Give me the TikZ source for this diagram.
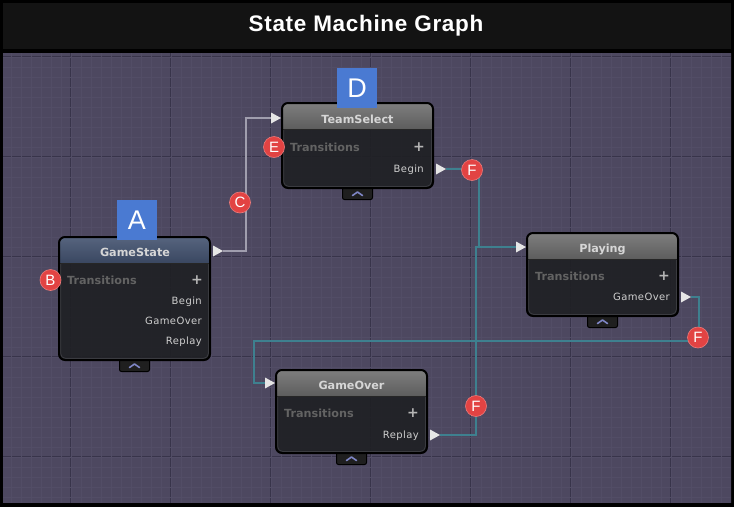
\documentclass[tikz,border=0pt]{standalone}
\usepackage{fontspec}
\setmainfont{DejaVu Sans}
\newfontfamily\labelfont{Liberation Sans}
\newfontfamily\headfont[LetterSpace=3]{Liberation Sans}
\newfontfamily\portfont[LetterSpace=4]{DejaVu Sans}
\usetikzlibrary{calc}
\definecolor{headbg}{HTML}{131313}
\definecolor{gridbg}{HTML}{4D4860}
\definecolor{gridminor}{HTML}{524D66}
\definecolor{gridmajor}{HTML}{38344A}
\definecolor{bodyc}{HTML}{1F2024}
\definecolor{greytop}{HTML}{7E7E7E}
\definecolor{greybot}{HTML}{5D5D5D}
\definecolor{bluetop}{HTML}{56647E}
\definecolor{bluebot}{HTML}{3A4761}
\definecolor{titlec}{HTML}{D6D6D6}
\definecolor{transc}{HTML}{636363}
\definecolor{portlc}{HTML}{CFCFCF}
\definecolor{plusc}{HTML}{B5B5B5}
\definecolor{portc}{HTML}{E6E6E6}
\definecolor{greyconnc}{HTML}{A09EAE}
\definecolor{tealc}{HTML}{3E808F}
\definecolor{redc}{HTML}{E24343}
\definecolor{bluec}{HTML}{4A7AD2}
\definecolor{chevc}{HTML}{7F86C6}
\definecolor{innerc}{HTML}{3A3B40}
\tikzset{
  statebody/.style={rectangle, inner sep=0, outer sep=0, minimum width=151, fill=bodyc, fill opacity=0.92, rounded corners=6},
  ntitle/.style={anchor=base, text=titlec, font=\bfseries\fontsize{11.2}{12}\selectfont, inner sep=0},
  ntrans/.style={anchor=base west, text=transc, font=\bfseries\fontsize{11.2}{12}\selectfont, inner sep=0},
  nplus/.style={anchor=center, text=plusc, font=\bfseries\fontsize{14}{14}\selectfont, inner sep=0},
  nport/.style={anchor=base east, text=portlc, font=\portfont\fontsize{10}{12}\selectfont, inner sep=0},
  greyconn/.style={draw=greyconnc, line width=1.4},
  tealconn/.style={draw=tealc, line width=1.6},
  redmark/.style={circle, fill=redc, draw=redc!70!white, line width=0.6, minimum size=21, inner sep=0, text=white, font=\labelfont\fontsize{15}{15}\selectfont},
  bluemark/.style={rectangle, fill=bluec, minimum size=40, inner sep=0, text=white, font=\labelfont\fontsize{27}{27}\selectfont},
  tabbox/.style={rectangle, fill=black!88, draw=black, line width=1, minimum width=30, minimum height=13, inner sep=0, rounded corners=2},
  minorline/.style={draw=gridminor, line width=0.5},
  majorline/.style={draw=gridmajor, line width=1.2}
}
% #1 name, #2 x, #3 y, #4 height, #5 header top colour, #6 header bottom colour
\newcommand\mkstate[6]{%
  \node[tabbox] (#1-tab) at (#2+75.5,#3+#4+5) {};
  \draw[chevc, line width=1.6, line cap=round, line join=round] ($(#1-tab.center)+(-5,2.5)$) -- ++(5,-3.5) -- ++(5,3.5);
  \node[statebody, minimum height=#4, anchor=north west] (#1) at (#2,#3) {};
  \begin{scope}
    \clip[rounded corners=6] (#1.north west) rectangle (#1.south east);
    \shade[top color=#5, bottom color=#6] (#2,#3) rectangle ++(151,26);
    \draw[black!85, line width=1] (#2,#3+26) -- ++(151,0);
  \end{scope}
  \draw[innerc, line width=0.8, rounded corners=5] ($(#1.north west)+(1.6,27)$) -- ($(#1.south west)+(1.6,-1.6)$) -- ($(#1.south east)+(-1.6,-1.6)$) -- ($(#1.north east)+(-1.6,27)$);
  \draw[black, line width=2, rounded corners=6] (#1.north west) rectangle (#1.south east);
}
\begin{document}
\begin{tikzpicture}[x=1pt, y=-1pt]
\useasboundingbox (0,0) rectangle (734,507);
% frame and header
\fill[black] (0,0) rectangle (734,507);
\fill[headbg] (3,3) rectangle (731,49);
\node[text=white, font=\headfont\bfseries\fontsize{22.5}{24}\selectfont, inner sep=0] (title) at (366,25.5) {State Machine Graph};
% grid
\fill[gridbg] (3,53) rectangle (731,503);
\begin{scope}
  \clip (3,53) rectangle (731,503);
  \foreach \gx in {71,171,...,671} \draw[majorline] (\gx,53) -- (\gx,503);
  \foreach \gy in {57,157,...,457} \draw[majorline] (3,\gy) -- (731,\gy);
  \foreach \gx in {1,11,...,731} \draw[minorline] (\gx,53) -- (\gx,503);
  \foreach \gy in {57,67,...,503} \draw[minorline] (3,\gy) -- (731,\gy);
\end{scope}
% port coordinates
\coordinate (gsout) at (223,251);
\coordinate (tsin) at (271,118);
\coordinate (tsout) at (446,169);
\coordinate (plin) at (516,247);
\coordinate (plout) at (691,297);
\coordinate (goin) at (265,383);
\coordinate (goout) at (440,435);
\coordinate (plgoA) at (699,341);
\coordinate (plgoB) at (254,341);
% connectors
\draw[greyconn] (gsout) -- ++(23,0) |- (tsin);
\draw[tealconn] (goout) -- ++(36,0) |- (plin);
\draw[tealconn] (tsout) -- ++(33,0) |- (plin);
\draw[tealconn] (plout) -| (plgoA) -- (plgoB) |- (goin);
% states
\mkstate{gs}{59}{237}{123}{bluetop}{bluebot}
\mkstate{ts}{282}{103}{85}{greytop}{greybot}
\mkstate{pl}{527}{233}{83}{greytop}{greybot}
\mkstate{go}{276}{370}{83}{greytop}{greybot}
% ports
\foreach \p in {gsout,tsout,plout,goout} \fill[portc] (\p) -- ++(-10,-5.5) -- ++(0,11) -- cycle;
\foreach \p in {tsin,plin,goin} \fill[portc] (\p) ++(0,-5.5) -- ++(10,5.5) -- ++(-10,5.5) -- cycle;
% texts GameState
\node[ntitle] (gs-t) at (135,256.2) {GameState};
\node[ntrans] (gs-tr) at (67,284) {Transitions};
\node[nplus] (gs-p) at (197,280) {+};
\node[nport] (gs-o1) at (202,304.6) {Begin};
\node[nport] (gs-o2) at (202,324.6) {GameOver};
\node[nport] (gs-o3) at (202,344.6) {Replay};
% TeamSelect
\node[ntitle] (ts-t) at (357.5,123) {TeamSelect};
\node[ntrans] (ts-tr) at (290,151) {Transitions};
\node[nplus] (ts-p) at (419,147) {+};
\node[nport] (ts-o1) at (424,172.6) {Begin};
% Playing
\node[ntitle] (pl-t) at (602.5,252) {Playing};
\node[ntrans] (pl-tr) at (535,280) {Transitions};
\node[nplus] (pl-p) at (664,276) {+};
\node[nport] (pl-o1) at (670,300.6) {GameOver};
% GameOver
\node[ntitle] (go-t) at (351.5,389) {GameOver};
\node[ntrans] (go-tr) at (284,417) {Transitions};
\node[nplus] (go-p) at (413,413) {+};
\node[nport] (go-o1) at (419,438.6) {Replay};
% letter labels
\node[bluemark] (mA) at (137,220) {A};
\node[bluemark] (mD) at (357,88) {D};
\node[redmark] (mB) at (50.5,280) {B};
\node[redmark] (mC) at (240,202.5) {C};
\node[redmark] (mE) at (274,147) {E};
\node[redmark] (mF1) at (472,170) {F};
\node[redmark] (mF2) at (698,337.5) {F};
\node[redmark] (mF3) at (476,406) {F};
\end{tikzpicture}
\end{document}
